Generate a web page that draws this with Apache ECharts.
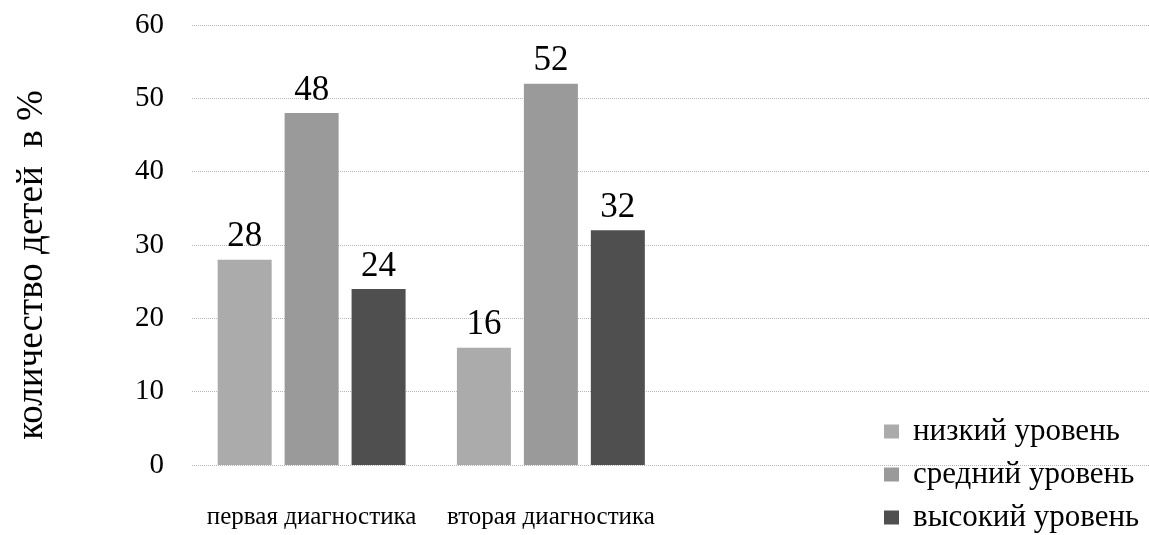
<!DOCTYPE html>
<html>
<head>
<meta charset="utf-8">
<script src="https://cdn.jsdelivr.net/npm/echarts@6/dist/echarts.min.js"></script>
<style>html,body{margin:0;padding:0;background:#fff;}#c{width:1149px;height:535px;}</style>
</head>
<body>
<div id="c"></div>
<script>
const categories = ['первая диагностика', 'вторая диагностика', '', ''];
const seriesNames = ['низкий уровень', 'средний уровень', 'высокий уровень'];
const lowLevel = [28, 16, null, null];
const midLevel = [48, 52, null, null];
const highLevel = [24, 32, null, null];
const yTicks = { min: 0, max: 60, interval: 10 };
const colors = ['#ababab', '#9a9a9a', '#4f4f4f'];

const chart = echarts.init(document.getElementById('c'), null, { renderer: 'canvas' });
const serif = '"Liberation Serif", "Times New Roman", serif';
const values = [lowLevel, midLevel, highLevel];

chart.setOption({
  animation: false,
  backgroundColor: '#ffffff',
  grid: { left: 192, right: 0, top: 25, bottom: 70, containLabel: false },
  legend: {
    orient: 'vertical',
    left: 884,
    top: 416,
    padding: 0,
    itemWidth: 15,
    itemHeight: 14,
    itemGap: 12,
    icon: 'rect',
    textStyle: { fontFamily: serif, fontSize: 31, color: '#000', padding: [0, 0, 0, 9] },
    data: seriesNames
  },
  xAxis: {
    type: 'category',
    data: categories,
    axisLine: { show: false },
    axisTick: { show: false },
    axisLabel: { interval: 0, hideOverlap: false, margin: 40, fontFamily: serif, fontSize: 25, color: '#000' }
  },
  yAxis: {
    type: 'value',
    min: yTicks.min, max: yTicks.max, interval: yTicks.interval,
    name: 'количество детей  в %',
    nameLocation: 'middle',
    nameGap: 141,
    nameRotate: 90,
    nameTextStyle: { fontFamily: serif, fontSize: 37, color: '#000', padding: [0, 40, 0, 0] },
    axisLine: { show: false },
    axisTick: { show: false },
    axisLabel: { margin: 28, fontFamily: serif, fontSize: 29, color: '#000' },
    splitLine: { lineStyle: { type: 'dotted', color: '#b8b8b8', width: 1 } }
  },
  series: seriesNames.map((n, i) => ({
    name: n,
    type: 'bar',
    data: values[i],
    barWidth: 54,
    barGap: '24%',
    itemStyle: { color: colors[i] },
    label: {
      show: true,
      position: 'top',
      distance: 5,
      fontFamily: serif,
      fontSize: 35,
      color: '#000'
    }
  }))
});
</script>
</body>
</html>
